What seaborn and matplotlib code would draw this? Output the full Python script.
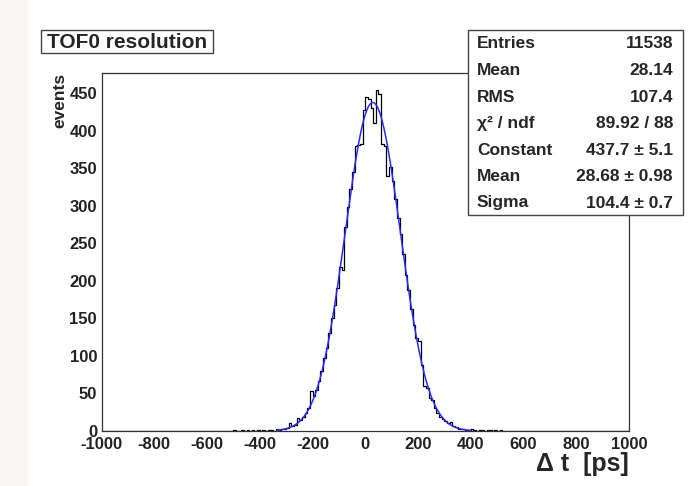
import matplotlib
matplotlib.use("Agg")
import matplotlib.pyplot as plt
from matplotlib.patches import Rectangle
from matplotlib.ticker import MultipleLocator
import numpy as np
import pandas as pd
import seaborn as sns

# ----------------------------------------
# data (10 ps bins, -1000..1000)
# ----------------------------------------
bin_lo, bin_hi, bin_w = -1000, 1000, 10
counts = (
    [0] * 50
    + [1, 0, 0, 1, 0, 1, 0, 1, 0, 1]              # -500 .. -400
    + [0, 1, 0, 1, 1, 0, 2, 1, 2, 3]              # -400 .. -300
    + [4, 10, 7, 8, 17, 14, 19, 24, 31, 53]       # -300 .. -200
    + [46, 55, 67, 80, 97, 110, 131, 150, 168, 190]
    + [219, 215, 272, 298, 322, 345, 380, 381, 382, 428]
    + [445, 442, 430, 411, 455, 449, 382, 380, 340, 352]
    + [333, 309, 284, 262, 236, 208, 188, 163, 141, 124]
    + [120, 88, 60, 57, 44, 41, 31, 24, 19, 16]
    + [13, 10, 12, 6, 5, 3, 3, 2, 1, 1]
    + [2, 1, 0, 1, 1, 0, 1, 1, 0, 1]
    + [0, 1]
    + [0] * 48
)

# gaussian fit result shown in the stats box
fit_const = 437.7
fit_mean = 28.68
fit_sigma = 104.4
fit_lo, fit_hi = -330, 400

stat_names = ["Entries", "Mean", "RMS", "\u03c7\u00b2 / ndf", "Constant", "Mean", "Sigma"]
stat_values = ["11538", "28.14", "107.4", "89.92 / 88", "437.7 \u00b1 5.1",
               "28.68 \u00b1 0.98", "104.4 \u00b1 0.7"]

W, H = 699, 486
FONT = "Liberation Sans"

sns.set_style("white")
plt.rcParams["font.family"] = [FONT, "DejaVu Sans"]
plt.rcParams["font.weight"] = "bold"
plt.rcParams["axes.unicode_minus"] = False

fig = plt.figure(figsize=(W / 100, H / 100), dpi=100)
fig.patch.set_facecolor("white")
fig.patches.append(Rectangle((0, 0), 29 / W, 1, transform=fig.transFigure,
                             facecolor="#faf6f5", edgecolor="none", zorder=-5))

ax = fig.add_axes([101.5 / W, 1 - 431 / H, (629 - 101.5) / W, (431 - 73) / H])

centers = np.arange(bin_lo + bin_w / 2, bin_hi, bin_w)
hist_df = pd.DataFrame({"dt": centers, "events": np.array(counts, dtype=float)})
sns.histplot(data=hist_df, x="dt", weights="events", binwidth=bin_w,
             binrange=(bin_lo, bin_hi), element="step", fill=False,
             color="black", linewidth=0.9, ax=ax)

fx = np.linspace(fit_lo, fit_hi, 300)
fy = fit_const * np.exp(-0.5 * ((fx - fit_mean) / fit_sigma) ** 2)
sns.lineplot(x=fx, y=fy, color="#2a2aff", linewidth=1.1, ax=ax)

ax.set_xlim(-1000, 1000)
ax.set_ylim(0, 477)
ax.set_xlabel("")
ax.set_ylabel("")
ax.xaxis.set_major_locator(MultipleLocator(200))
ax.xaxis.set_minor_locator(MultipleLocator(50))
ax.yaxis.set_major_locator(MultipleLocator(50))
ax.yaxis.set_minor_locator(MultipleLocator(10))
ax.tick_params(axis="x", which="major", direction="in", length=7.7, width=0.8,
               pad=4.3, labelsize=12, colors="#222222")
ax.tick_params(axis="x", which="minor", direction="in", length=3.9, width=0.8)
ax.tick_params(axis="y", which="major", direction="in", length=11.4, width=0.8,
               pad=3.2, labelsize=12, colors="#222222")
ax.tick_params(axis="y", which="minor", direction="in", length=5.7, width=0.8)
for lab in ax.get_xticklabels() + ax.get_yticklabels():
    lab.set_fontweight("bold")
for sp in ax.spines.values():
    sp.set_color("#333333")
    sp.set_linewidth(0.9)

# axis titles placed like ROOT does
fig.text(60 / W, 1 - 73 / H, "events", rotation=90, ha="center", va="top",
         fontsize=12.5, fontweight="bold")
fig.text(629 / W, 1 - 464 / H, "\u0394 t  [ps]", ha="right", va="center",
         fontsize=18, fontweight="bold")

# title box
fig.patches.append(Rectangle((41 / W, 1 - 53 / H), 172 / W, 23 / H,
                             transform=fig.transFigure, facecolor="white",
                             edgecolor="#444444", linewidth=1, zorder=3))
fig.text(47 / W, 1 - 42 / H, "TOF0 resolution", ha="left", va="center",
         fontsize=15, fontweight="bold", zorder=4)

# stats box
box_l, box_r, box_t, box_b = 468, 683, 30, 215
fig.patches.append(Rectangle((box_l / W, 1 - box_b / H), (box_r - box_l) / W,
                             (box_b - box_t) / H, transform=fig.transFigure,
                             facecolor="white", edgecolor="#444444",
                             linewidth=1, zorder=3))
row_y = [44, 70.5, 97, 123.5, 150, 176.5, 203]
for name, val, y in zip(stat_names, stat_values, row_y):
    fig.text(477 / W, 1 - y / H, name, ha="left", va="center",
             fontsize=12.5, fontweight="bold", zorder=4)
    fig.text(673 / W, 1 - y / H, val, ha="right", va="center",
             fontsize=12.5, fontweight="bold", zorder=4)

fig.savefig("out.png", dpi=100)
